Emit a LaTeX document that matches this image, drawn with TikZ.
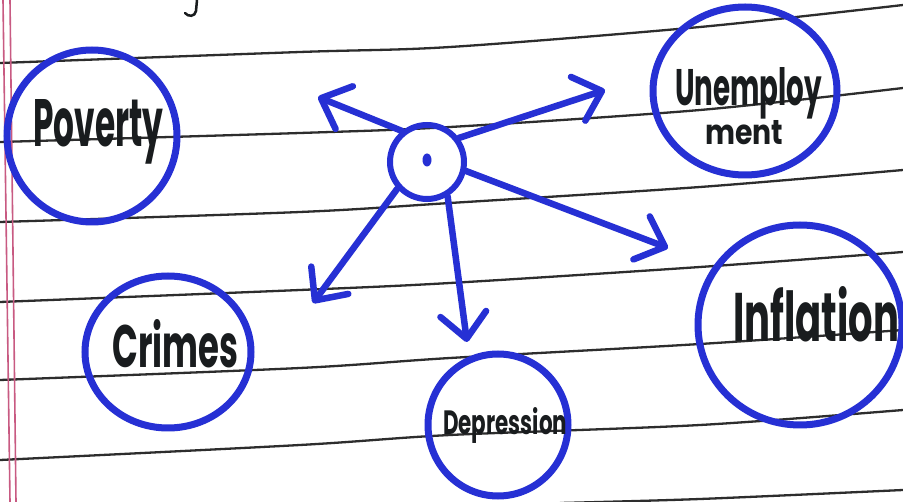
\documentclass[tikz,border=0pt]{standalone}
\usepackage{fontspec}
\setsansfont{Poppins}
\usetikzlibrary{arrows.meta,shapes.geometric}
\definecolor{ink}{RGB}{38,48,212}
\definecolor{rulegray}{RGB}{45,45,45}
\definecolor{margin}{RGB}{200,90,130}
\definecolor{pen}{RGB}{25,28,30}
\tikzset{
  bubble/.style={draw=ink, line width=7pt, ellipse, inner sep=0pt},
  hub/.style={draw=ink, line width=6pt, circle, inner sep=0pt, minimum size=74pt},
  word/.style={anchor=base west, inner sep=0pt, text=pen, font=\sffamily\bfseries},
  link/.style={draw=ink, line width=6.5pt, line cap=round, line join=round,
    -{Straight Barb[length=25pt,width=46pt,round]}},
  ruling/.style={draw=rulegray, line width=2.3pt},
  redline/.style={draw=margin, line width=1.6pt},
}
\begin{document}
\begin{tikzpicture}[x=1pt,y=-1pt]
\useasboundingbox (0,0) rectangle (903,502);
\clip (0,0) rectangle (903,502);
\fill[white] (0,0) rectangle (903,502);
% ruled paper
\draw[ruling] plot[smooth] coordinates {(0,63) (300,52) (450,47) (700,27) (903,5)};
\draw[ruling] plot[smooth] coordinates {(0,142) (300,133) (450,127) (700,110) (903,88)};
\draw[ruling] plot[smooth] coordinates {(0,222) (300,212) (450,203) (700,187) (903,170)};
\draw[ruling] plot[smooth] coordinates {(0,302) (300,290) (450,283) (700,267) (903,252)};
\draw[ruling] plot[smooth] coordinates {(0,380) (300,368) (450,358) (700,344) (903,330)};
\draw[ruling] plot[smooth] coordinates {(0,460) (300,445) (450,435) (700,425) (903,410)};
\draw[ruling] plot[smooth] coordinates {(560,503) (700,499) (903,490)};
\draw[redline] (3,0) -- (10,502);
\draw[redline] (10,0) -- (16,502);
% fragment at top
\draw[pen, line width=2.5pt, line cap=round] (197,0) -- (196,11) .. controls (195,17) and (188,17) .. (185,13);
% bubbles
\node[bubble, minimum width=170pt, minimum height=172pt] (pov) at (92,136) {};
\node[bubble, minimum width=184pt, minimum height=168pt] (unemp) at (745,91) {};
\node[bubble, minimum width=166pt, minimum height=152pt] (crime) at (168,352) {};
\node[bubble, minimum width=140pt, minimum height=142pt] (dep) at (498,425) {};
\node[bubble, minimum width=204pt, minimum height=200pt] (infl) at (800,325) {};
\node[hub] (c) at (427,162) {};
\node[fill=ink, ellipse, minimum width=9pt, minimum height=13pt, inner sep=0pt] (dot) at (427,160) {};
% words
\node[word] (tpov) at (33,147) {\resizebox{130pt}{47pt}{Poverty}};
\node[word] (tun1) at (675,106) {\resizebox{147pt}{38pt}{Unemploy}};
\node[word] (tun2) at (705,145) {\resizebox{78pt}{24pt}{ment}};
\node[word] (tcri) at (112,368) {\resizebox{126pt}{48pt}{Crimes}};
\node[word] (tdep) at (443,435) {\resizebox{124pt}{27pt}{Depression}};
\node[word] (tinf) at (733,342) {\resizebox{166pt}{55pt}{Inflation}};
% arrows
\coordinate (tUL) at (318,97);
\coordinate (tUR) at (605,90);
\coordinate (tLL) at (313,303);
\coordinate (tD) at (467,342);
\coordinate (tI) at (668,248);
\draw[link] (c.129) -- (tUL);
\draw[link] (c.37) -- (tUR);
\draw[link] (c.222) -- (tLL);
\draw[link] (c.301) -- (tD);
\draw[link] (c.347) -- (tI);
\end{tikzpicture}
\end{document}
